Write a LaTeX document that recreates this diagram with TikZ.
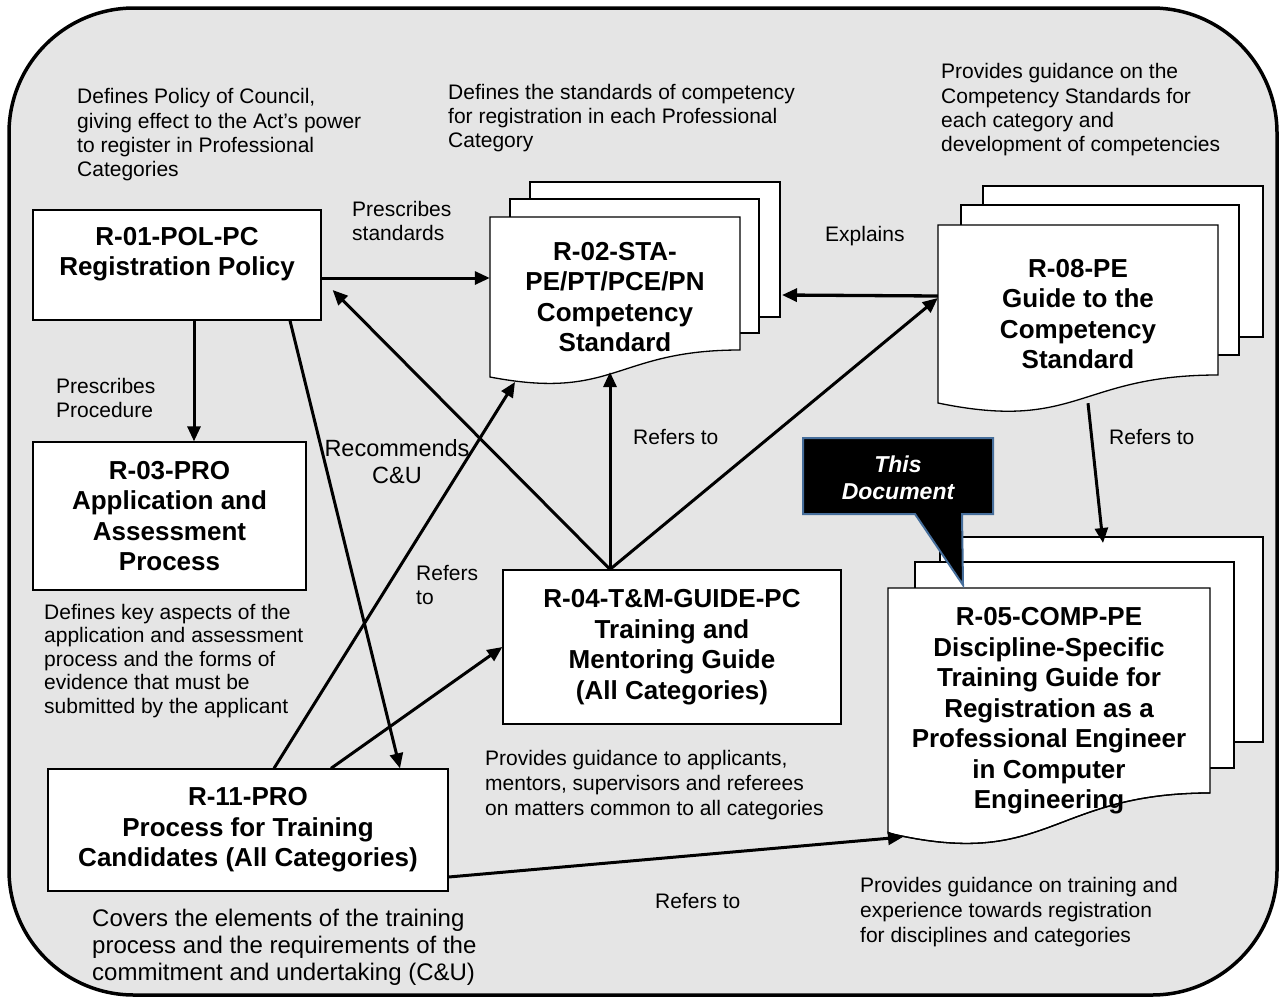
\documentclass[tikz,border=0pt]{standalone}
\usepackage{fontspec}
\setmainfont{Liberation Sans}
\usetikzlibrary{arrows.meta,calc}
\definecolor{bggray}{RGB}{229,229,229}
\definecolor{callblue}{RGB}{70,110,155}
\newcommand\mydescfont{\fontsize{21}{24.3}\selectfont}
\newcommand\myboldfont{\fontsize{26}{30.5}\selectfont\bfseries}
\newcommand\docpage[6]{%
  \draw[pagestyle] (#1,#2) -- (#3,#2) -- (#3,#4)
    .. controls ({(#1+#3)/2},#4) and ({(#1+#3)/2},#6) .. (#1,#5) -- cycle;}
\tikzset{
  boxstyle/.style={draw=black, line width=1.3pt, fill=white, inner sep=0pt, align=center, font=\myboldfont},
  pagestyle/.style={draw=black, line width=1.3pt, fill=white},
  arr/.style={line width=3pt, -{Triangle[length=15pt,width=13pt]}},
  desc/.style={inner sep=0pt, align=left, anchor=west, font=\mydescfont},
  doctext/.style={inner sep=0pt, align=center, font=\myboldfont},
}
\begin{document}
\begin{tikzpicture}[x=1pt,y=-1pt]
\useasboundingbox (0,0) rectangle (1282,1001);
% outer frame
\draw[line width=3.5pt, fill=bggray, rounded corners=125pt] (9,8) rectangle (1277,995);

% ---------- boxes ----------
\node[boxstyle, minimum width=288pt, minimum height=110pt] (r01) at (177,265) {};
\node[doctext] (r01t) at (177,254) {R-01-POL-PC\\Registration Policy};
\node[boxstyle, minimum width=273pt, minimum height=148pt] (r03) at (169.5,516)
  {R-03-PRO\\Application and\\Assessment\\Process};
\node[boxstyle, minimum width=400pt, minimum height=122pt] (r11) at (248,830)
  {R-11-PRO\\Process for Training\\Candidates (All Categories)};
\node[boxstyle, minimum width=338pt, minimum height=154pt] (r04) at (672,647)
  {R-04-T\&M-GUIDE-PC\\Training and\\Mentoring Guide\\(All Categories)};

% ---------- document R-02 ----------
\draw[pagestyle] (530,182) rectangle (780,317);
\draw[pagestyle] (510,199) rectangle (759,333);
\docpage{490}{217}{740}{350}{377}{401}
\node[doctext, minimum width=250pt, minimum height=160pt] (r02) at (615,297)
  {R-02-STA-\\PE/PT/PCE/PN\\Competency\\Standard};

% ---------- document R-08 ----------
\draw[pagestyle] (983,186) rectangle (1263,337);
\draw[pagestyle] (961,205) rectangle (1239,355);
\docpage{938}{225}{1218}{375}{403}{432}
\node[doctext, minimum width=280pt, minimum height=178pt] (r08) at (1078,314)
  {R-08-PE\\Guide to the\\Competency\\Standard};

% ---------- document R-05 ----------
\draw[pagestyle] (940,537) rectangle (1263,742);
\draw[pagestyle] (915,562) rectangle (1234,768);
\docpage{888}{588}{1210}{793}{833}{871}
\node[inner sep=0pt, minimum width=322pt, minimum height=245pt] (r05) at (1049,711) {};
\node[doctext] (r05t) at (1049,711)
  {R-05-COMP-PE\\Discipline-Specific\\Training Guide for\\Registration as a\\Professional Engineer\\in Computer\\Engineering};
\draw[line width=1.3pt] (1210,793) .. controls (1049,793) and (1049,871) .. (888,833);

% ---------- named points on shapes ----------
\coordinate (r02wave) at (515,382);
\coordinate (r02bot) at (610,372);
\coordinate (r02back) at (782,295);
\coordinate (r05top) at (1103,543);
\coordinate (r05wave) at (903,837);

% ---------- connectors ----------
\draw[arr] ([yshift=-13pt]r01.east) -- ([yshift=-13pt]r01.east -| r02.west);
\draw[arr] ([xshift=17pt]r01.south) -- ([xshift=17pt]r01.south |- r03.north);
\draw[arr] ([xshift=113pt]r01.south) -- ([xshift=152pt]r11.north);
\draw[arr] ([xshift=26pt]r11.north) -- (r02wave);
\draw[arr] ([xshift=83pt]r11.north) -- (r04.west);
\draw[arr] ([xshift=-62pt]r04.north) -- ([xshift=11pt,yshift=-25pt]r01.east);
\draw[arr] ([xshift=-62pt]r04.north) -- (r02bot);
\draw[arr] ([xshift=-62pt]r04.north) -- ([yshift=16pt]r08.west);
\draw[arr, line width=3.3pt] ([yshift=18pt]r08.west) -- (r02back);
\draw[arr] ([xshift=10pt]r08.south) -- (r05top);
\draw[arr] ([yshift=-47pt]r11.east) -- (r05wave);

% ---------- callout ----------
\draw[fill=black, draw=callblue, line width=2pt]
  (803,438) -- (993,438) -- (993,514) -- (962,514) -- (963,585) -- (915,514) -- (803,514) -- cycle;
\node[inner sep=0pt, align=center, text=white, font=\fontsize{23}{27}\selectfont\bfseries\itshape] (callout) at (898,478) {This\\Document};

% ---------- connector labels ----------
\node[desc] (lps) at (352,221) {Prescribes\\standards};
\node[desc] (lpp) at (56,398) {Prescribes\\Procedure};
\node[inner sep=0pt, align=center, font=\fontsize{23.5}{27}\selectfont] (lrc) at (397,462) {Recommends\\C\&U};
\node[desc] (lrt1) at (416,585) {Refers\\to};
\node[desc] (lrt2) at (633,437) {Refers to};
\node[desc] (lex) at (825,236) {Explains};
\node[desc] (lrt3) at (1109,437) {Refers to};
\node[desc] (lrt4) at (655,901) {Refers to};

% ---------- descriptions ----------
\node[desc] (d1) at (77,135) {Defines Policy of Council,\\giving effect to the Act’s power\\to register in Professional\\Categories};
\node[desc] (d2) at (448,118) {Defines the standards of competency\\for registration in each Professional\\Category};
\node[desc] (d3) at (941,110) {Provides guidance on the\\Competency Standards for\\each category and\\development of competencies};
\node[desc, font=\fontsize{21}{23.5}\selectfont] (d4) at (44,661) {Defines key aspects of the\\application and assessment\\process and the forms of\\evidence that must be\\submitted by the applicant};
\node[desc, font=\fontsize{21}{25}\selectfont] (d5) at (485,785) {Provides guidance to applicants,\\mentors, supervisors and referees\\on matters common to all categories};
\node[desc, font=\fontsize{21}{25}\selectfont] (d6) at (860,912) {Provides guidance on training and\\experience towards registration\\for disciplines and categories};
\node[desc, font=\fontsize{24}{27}\selectfont] (d7) at (92,947) {Covers the elements of the training\\process and the requirements of the\\commitment and undertaking (C\&U)};
\end{tikzpicture}
\end{document}
